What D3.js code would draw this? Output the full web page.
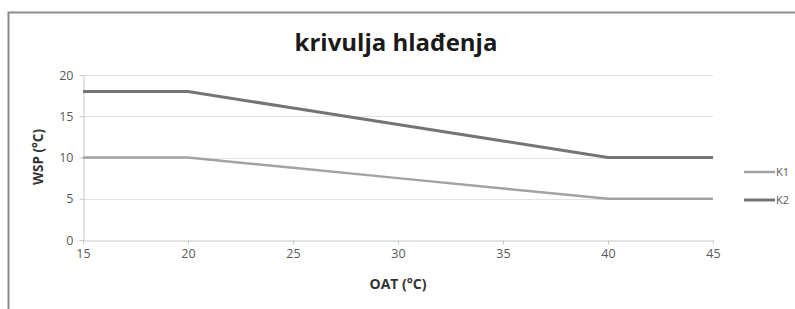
<!DOCTYPE html>
<html lang="hr">
<head>
<meta charset="UTF-8">
<title>krivulja hlađenja</title>
<script src="https://cdn.jsdelivr.net/npm/d3@7"></script>
<style>
  body { margin: 0; background: #fff; }
  svg { display: block; font-family: "Open Sans", "DejaVu Sans", sans-serif; }
</style>
</head>
<body>
<script>
    // data
    var oat = [15, 20, 25, 30, 35, 40, 45];
    var k1 = [10, 10, 8.75, 7.5, 6.25, 5, 5];
    var k2 = [18, 18, 16, 14, 12, 10, 10];
    var seriesNames = ['K1', 'K2'];
    var yTicks = [0, 5, 10, 15, 20];
    var xTicks = [15, 20, 25, 30, 35, 40, 45];

    var width = 795, height = 309;
    var svg = d3.select('body').append('svg')
        .attr('width', width)
        .attr('height', height);

    // chart frame
    svg.append('rect')
        .attr('x', 8.5).attr('y', 12.5)
        .attr('width', 800).attr('height', 320)
        .attr('fill', '#fff')
        .attr('stroke', '#8c8c8c')
        .attr('stroke-width', 2);

    var x = d3.scaleLinear().domain([15, 45]).range([83, 713]);
    var y = d3.scaleLinear().domain([0, 20]).range([240, 75]);

    // gridlines
    svg.append('g').selectAll('line')
        .data(yTicks.filter(function(d){ return d > 0; }))
        .enter().append('line')
        .attr('x1', x(15)).attr('x2', x(45))
        .attr('y1', function(d){ return Math.round(y(d)) + 0.5; })
        .attr('y2', function(d){ return Math.round(y(d)) + 0.5; })
        .attr('stroke', '#e3e3e3');

    var yAxis = svg.append('g')
        .attr('transform', 'translate(' + (x(15) + 0.5) + ',0)')
        .call(d3.axisLeft(y).tickValues(yTicks).tickSize(4).tickPadding(6));
    var xAxis = svg.append('g')
        .attr('transform', 'translate(0,' + (y(0) + 0.5) + ')')
        .call(d3.axisBottom(x).tickValues(xTicks).tickSize(4).tickPadding(5));

    [xAxis, yAxis].forEach(function(g){
        g.select('.domain').attr('stroke', '#c8c8c8');
        g.selectAll('.tick line').attr('stroke', '#c8c8c8');
        g.selectAll('.tick text')
            .attr('fill', '#595959')
            .style('font-size', '12.5px')
            .style('font-family', '"Open Sans", sans-serif');
    });

    var colors = ['#a3a3a3', '#747474'];
    var widths = [2.5, 3];
    var line = d3.line()
        .x(function(d, i){ return x(oat[i]); })
        .y(function(d){ return y(d); });

    svg.append('g').selectAll('path')
        .data([k1, k2])
        .enter().append('path')
        .attr('d', line)
        .attr('fill', 'none')
        .attr('stroke', function(d, i){ return colors[i]; })
        .attr('stroke-width', function(d, i){ return widths[i]; });

    // legend
    var legend = svg.append('g').selectAll('g')
        .data(seriesNames)
        .enter().append('g')
        .attr('transform', function(d, i){ return 'translate(744,' + (172 + i * 28) + ')'; });
    legend.append('line')
        .attr('x1', 0).attr('x2', 31)
        .attr('stroke', function(d, i){ return colors[i]; })
        .attr('stroke-width', function(d, i){ return widths[i]; });
    legend.append('text')
        .attr('x', 32).attr('dy', '0.35em')
        .attr('fill', '#595959')
        .style('font-size', '11px')
        .text(function(d){ return d; });

    // titles
    svg.append('text')
        .attr('x', 396).attr('y', 51)
        .attr('text-anchor', 'middle')
        .style('font-size', '24px')
        .style('font-weight', 'bold')
        .attr('fill', '#1a1a1a')
        .text('krivulja hlađenja');

    svg.append('text')
        .attr('x', 398).attr('y', 289)
        .attr('text-anchor', 'middle')
        .style('font-size', '14px')
        .style('font-weight', 'bold')
        .attr('fill', '#333')
        .text('OAT (°C)');

    svg.append('text')
        .attr('transform', 'translate(43,157) rotate(-90)')
        .attr('text-anchor', 'middle')
        .style('font-size', '13.5px')
        .style('font-weight', 'bold')
        .attr('fill', '#333')
        .text('WSP (°C)');
</script>
</body>
</html>
